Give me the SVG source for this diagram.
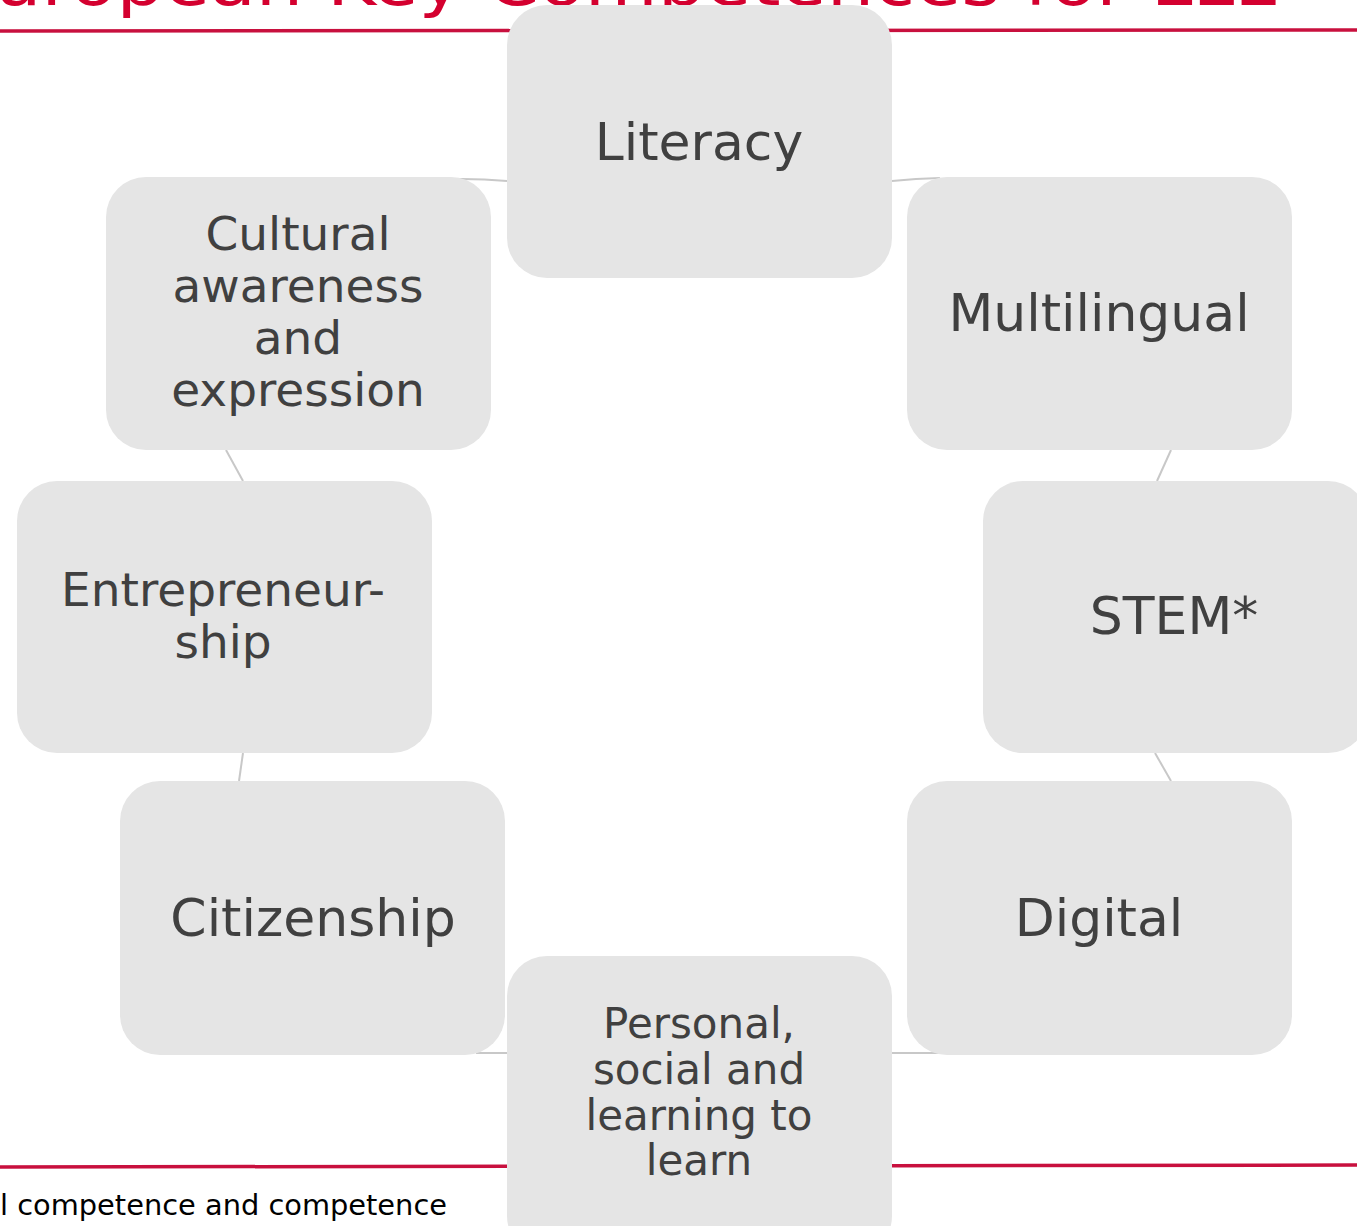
<svg xmlns="http://www.w3.org/2000/svg" width="1357" height="1226" viewBox="0 0 1357 1226">
<defs>
<style>
.node rect{fill:#e5e5e5;}
.node text{font-family:"DejaVu Sans","Verdana",sans-serif;fill:#404040;text-anchor:middle;}
.big{font-size:52px;}
.mid{font-size:47px;}
.sm{font-size:42px;}
.conn path{fill:none;stroke:#c8c8c8;stroke-width:2;}
.rule{stroke:#c8103e;stroke-width:3.5;fill:none;}
</style>
</defs>
<rect width="1357" height="1226" fill="#ffffff"/>
<text x="1276" y="5" text-anchor="end" textLength="1282" lengthAdjust="spacingAndGlyphs" font-family="'DejaVu Sans',Verdana,sans-serif" font-size="64" fill="#d4002f">uropean Key Competences for LLL</text>
<line class="rule" x1="0" y1="31" x2="1357" y2="30"/>
<line class="rule" x1="0" y1="1167" x2="1357" y2="1165"/>
<text x="0" y="1215" textLength="447" lengthAdjust="spacingAndGlyphs" font-family="'DejaVu Sans',Verdana,sans-serif" font-size="28" fill="#000000">l competence and competence</text>
<g class="conn" id="connectors">
<path d="M452,179 A489,489 0 0 1 507,181"/>
<path d="M892,181 A489,489 0 0 1 940,178"/>
<path d="M1171,450 L1157,481"/>
<path d="M1155,753 L1171,781"/>
<path d="M892,1053 L943,1053"/>
<path d="M476,1053 L507,1053"/>
<path d="M243,753 L239,781"/>
<path d="M226,450 L243,481"/>
</g>
<g class="node" id="literacy">
<rect x="507" y="5" width="385" height="273" rx="40"/>
<text class="big" x="699" y="160">Literacy</text>
</g>
<g class="node" id="multilingual">
<rect x="907" y="177" width="385" height="273" rx="40"/>
<text class="big" x="1099" y="331">Multilingual</text>
</g>
<g class="node" id="stem">
<rect x="983" y="481" width="385" height="272" rx="40"/>
<text class="big" x="1174" y="634">STEM*</text>
</g>
<g class="node" id="digital">
<rect x="907" y="781" width="385" height="274" rx="40"/>
<text class="big" x="1099" y="936">Digital</text>
</g>
<g class="node" id="personal">
<rect x="507" y="956" width="385" height="300" rx="40"/>
<text class="sm" x="699" y="1038">Personal,</text>
<text class="sm" x="699" y="1084">social and</text>
<text class="sm" x="699" y="1130">learning to</text>
<text class="sm" x="699" y="1175">learn</text>
</g>
<g class="node" id="citizenship">
<rect x="120" y="781" width="385" height="274" rx="40"/>
<text class="big" x="313" y="936">Citizenship</text>
</g>
<g class="node" id="entrepreneurship">
<rect x="17" y="481" width="415" height="272" rx="40"/>
<text class="mid" x="223" y="606">Entrepreneur-</text>
<text class="mid" x="223" y="658">ship</text>
</g>
<g class="node" id="cultural">
<rect x="106" y="177" width="385" height="273" rx="40"/>
<text class="mid" x="298" y="250">Cultural</text>
<text class="mid" x="298" y="302">awareness</text>
<text class="mid" x="298" y="354">and</text>
<text class="mid" x="298" y="406">expression</text>
</g>
</svg>
